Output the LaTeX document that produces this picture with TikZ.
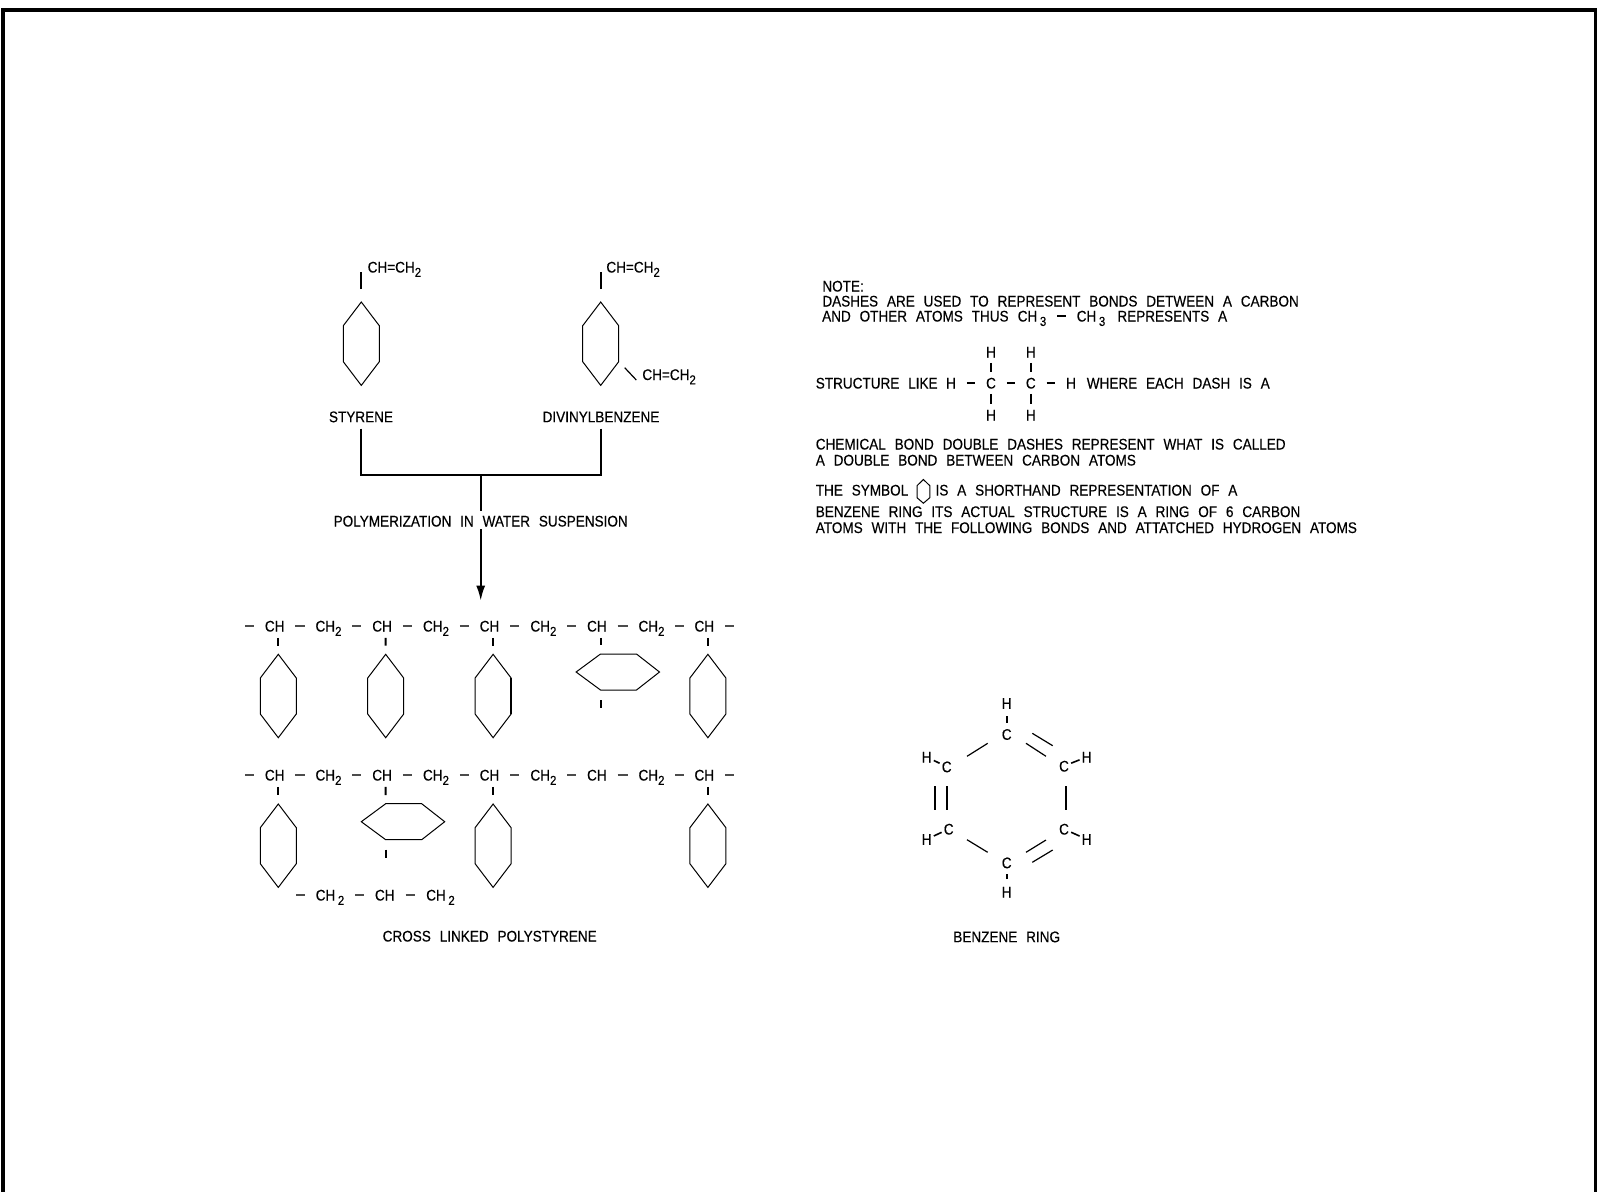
\documentclass[tikz,border=0pt]{standalone}
\usepackage{fontspec}
\setmainfont[FakeStretch=0.88,WordSpace=2.35,FakeBold=0.35]{Liberation Sans}
\usetikzlibrary{arrows.meta}
\newcommand{\lowsub}[1]{\raisebox{-2.2pt}{\fontsize{6.5}{7}\selectfont #1}}
\tikzset{
    lab/.style={font=\fontsize{7.7}{9}\selectfont, inner sep=0pt, text height=5.5pt, text depth=0pt},
    ringline/.style={line width=0.5pt, line join=miter},
    bond/.style={line width=1pt},
    chainbond/.style={line width=1pt, black!70, shorten <=5.3pt, shorten >=5.3pt},
    stub/.style={line width=1pt, shorten <=3pt, shorten >=4.3pt},
    vdash/.style={line width=0.8pt, shorten <=2.5pt, shorten >=2.5pt},
    hdash/.style={line width=0.8pt, shorten <=1pt, shorten >=1pt},
    thinbond/.style={line width=0.6pt},
}
\begin{document}
\begin{tikzpicture}[x=0.5pt,y=-0.5pt]
    \path[use as bounding box, clip] (0,0) rectangle (1597,1191);
    % frame
    \draw [line width=2pt] (3,1200) -- (3,10) -- (1596,10) -- (1596,1200);

    % monomers
    \foreach \n/\x/\y in {st/361.3/302, dv/600.7/302, 11/278.3/654.3, 12/385.7/654.3, 13/493.1/654.3, 15/707.9/654.3, 21/278.3/804, 23/493.1/804, 25/707.9/804} {
        \coordinate (ring\n) at (\x,\y);
        \draw [ringline] (ring\n) -- ++(18,23.7) -- ++(0,36) -- ++(-18,23.7) -- ++(-18,-23.7) -- ++(0,-36) -- cycle;
    }
    \draw [bond] ([shift={(0,-13)}]ringst) -- ++(0,-17);
    \draw [bond] ([shift={(0,-13)}]ringdv) -- ++(0,-17);
    \draw [thinbond] ([shift={(24,65.7)}]ringdv) -- ++(11.6,12.3);
    \node [lab, anchor=west] (vinylst) at (367.3,267) {CH=CH\lowsub{2}};
    \node [lab, anchor=west] (vinyldv) at (606,267) {CH=CH\lowsub{2}};
    \node [lab, anchor=west] (vinylbt) at (642,374.5) {CH=CH\lowsub{2}};
    \node [lab] (styrene) at (361,416.7) {STYRENE};
    \node [lab] (divinyl) at (601,416.7) {DIVINYLBENZENE};

    % polymerization
    \coordinate (junction) at (480.7,475);
    \coordinate (arrowend) at (480.7,600.7);
    \node [lab] (polym) at (480.7,521) {POLYMERIZATION IN WATER SUSPENSION};
    \draw [bond, shorten <=3pt] (styrene.south) |- (junction);
    \draw [bond, shorten <=3pt] (divinyl.south) |- (junction);
    \draw [bond, shorten >=2pt] (junction) -- (polym.north);
    \draw [bond, shorten <=1.2pt, -{Latex[length=7.5pt,width=4.5pt]}] (polym.south) -- (arrowend);

    % chains
    \foreach \r/\y in {1/626, 2/775} {
        \foreach \i/\x in {1/274.7, 2/382.1, 3/489.5, 4/596.9, 5/704.3} {
            \node [lab] (ch\r\i) at (\x,\y) {CH};
        }
        \foreach \i/\x in {1/328.5, 2/436, 3/543.4, 4/651.5} {
            \node [lab] (mid\r\i) at (\x,\y) {CH\lowsub{2}};
        }
        \coordinate (open\r) at (245,\y);
        \coordinate (shut\r) at (734,\y);
        \draw [chainbond, shorten <=0pt] (open\r) -- (ch\r1);
        \draw [chainbond, shorten >=0pt] (ch\r5) -- (shut\r);
        \foreach \i/\j in {1/2, 2/3, 3/4, 4/5} {
            \draw [chainbond] (ch\r\i) -- (mid\r\i);
            \draw [chainbond] (mid\r\i) -- (ch\r\j);
        }
    }

    % rings on their side
    \foreach \n/\x/\y in {14/600.5/654, 22/385.7/803.7} {
        \coordinate (ring\n) at (\x,\y);
        \draw [ringline] (ring\n) -- ++(36,0) -- ++(23,18) -- ++(-23,18) -- ++(-36,0) -- ++(-24.4,-18) -- cycle;
        \draw [bond] ([shift={(0,46)}]ring\n) -- ++(0,8);
    }
    \draw [bond] ([shift={(18,23.7)}]ring13) -- ++(0,36);
    \foreach \n in {11,12,13,14,15,21,22,23,25} {
        \draw [stub] ([xshift=1.8pt]ch\n.south) -- (ring\n);
    }

    % cross link
    \coordinate (linkopen) at (296,895);
    \node [lab] (linka) at (330,895) {CH\,\lowsub{2}};
    \node [lab] (linkb) at (384.8,895) {CH};
    \node [lab] (linkc) at (440.5,895) {CH\,\lowsub{2}};
    \draw [chainbond, shorten <=0pt] (linkopen) -- (linka);
    \draw [chainbond] (linka) -- (linkb);
    \draw [chainbond] (linkb) -- (linkc);
    \node [lab] (crosslabel) at (489.7,936) {CROSS LINKED POLYSTYRENE};

    % note
    \node [lab, anchor=west] (notehead) at (822,286) {NOTE:};
    \node [lab, anchor=west] (noteone) at (822,301) {DASHES ARE USED TO REPRESENT BONDS DETWEEN A CARBON};
    \node [lab, anchor=west] (notetwo) at (821.8,316) {AND OTHER ATOMS THUS};
    \node [lab] (methyla) at (1032,316) {CH\,\lowsub{3}};
    \node [lab] (methylb) at (1091,316) {CH\,\lowsub{3}};
    \node [lab, anchor=west] (notethree) at (1117,316) {REPRESENTS A};
    \draw [chainbond, black] (methyla) -- (methylb);
    \node [lab, anchor=west] (likeleft) at (815.4,383) {STRUCTURE LIKE};
    \node [lab] (hleft) at (951,383) {H};
    \node [lab] (ca) at (991,383) {C};
    \node [lab] (cb) at (1030.8,383) {C};
    \node [lab] (hright) at (1071,383) {H};
    \node [lab, anchor=west] (likeright) at (1086.4,383) {WHERE EACH DASH IS A};
    \node [lab] (hatop) at (991,352) {H};
    \node [lab] (hbtop) at (1030.8,352) {H};
    \node [lab] (habot) at (991,415) {H};
    \node [lab] (hbbot) at (1030.8,415) {H};
    \draw [chainbond, black] (hleft) -- (ca);
    \draw [chainbond, black] (ca) -- (cb);
    \draw [chainbond, black] (cb) -- (hright);
    \foreach \a/\b in {hatop/ca, hbtop/cb, ca/habot, cb/hbbot} {
        \draw [vdash] (\a) -- (\b);
    }
    \node [lab, anchor=west] (chemone) at (815.4,444) {CHEMICAL BOND DOUBLE DASHES REPRESENT WHAT IS CALLED};
    \node [lab, anchor=west] (chemtwo) at (815.4,460) {A DOUBLE BOND BETWEEN CARBON ATOMS};
    \node [lab, anchor=west] (symbleft) at (815.4,490) {THE SYMBOL};
    \coordinate (symb) at (923.4,479.5);
    \draw [ringline] (symb) -- ++(6.4,6.2) -- ++(0,12) -- ++(-6.4,5.5) -- ++(-6.4,-5.5) -- ++(0,-12) -- cycle;
    \node [lab, anchor=west] (symbright) at (935.2,490) {IS A SHORTHAND REPRESENTATION OF A};
    \node [lab, anchor=west] (benzone) at (815.4,511.5) {BENZENE RING ITS ACTUAL STRUCTURE IS A RING OF 6 CARBON};
    \node [lab, anchor=west] (benztwo) at (815.4,527.5) {ATOMS WITH THE FOLLOWING BONDS AND ATTATCHED HYDROGEN ATOMS};

    % benzene ring
    \foreach \n/\x/\y in {Top/1006.7/734.3, UL/946.7/766.7, UR/1064/766, LL/948.7/829, LR/1064/829, Bot/1006.7/862.7} {
        \node [lab] (c\n) at (\x,\y) {C};
    }
    \foreach \n/\x/\y in {Top/1006.7/703.3, UL/926.7/757, UR/1086.7/757, LL/926.7/839.3, LR/1086.7/839.3, Bot/1006.7/892} {
        \node [lab] (h\n) at (\x,\y) {H};
    }
    \foreach \n in {UL, UR, LL, LR} {
        \draw [hdash] (h\n) -- (c\n);
    }
    \foreach \n in {Top, Bot} {
        \draw [vdash, shorten <=3.5pt] (h\n) -- (c\n);
    }
    \draw [thinbond] ([shift={(-19,9)}]cTop.center) -- ([shift={(20.3,-10.4)}]cUL.center);
    \draw [thinbond] ([shift={(19.3,9)}]cTop.center) -- ([shift={(-18,-9.7)}]cUR.center);
    \draw [thinbond] ([shift={(25.6,-1)}]cTop.center) -- ([shift={(-11.3,-20.3)}]cUR.center);
    \draw [bond] ([shift={(-11.7,19.3)}]cUL.center) -- ([shift={(-13.7,-19)}]cLL.center);
    \draw [bond] ([shift={(0,19.3)}]cUL.center) -- ([shift={(-2,-19)}]cLL.center);
    \draw [bond] ([shift={(2,20)}]cUR.center) -- ([shift={(2,-19)}]cLR.center);
    \draw [thinbond] ([shift={(18.3,10.7)}]cLL.center) -- ([shift={(-19,-10.4)}]cBot.center);
    \draw [thinbond] ([shift={(19.3,-10.4)}]cBot.center) -- ([shift={(-18,11)}]cLR.center);
    \draw [thinbond] ([shift={(25.6,-0.4)}]cBot.center) -- ([shift={(-11.3,21)}]cLR.center);
    \node [lab] (benzlabel) at (1006.7,936.7) {BENZENE RING};
\end{tikzpicture}
\end{document}
